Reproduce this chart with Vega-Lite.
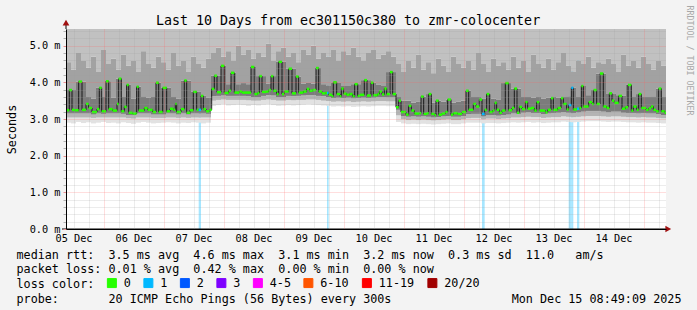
{
"$schema": "https://vega.github.io/schema/vega-lite/v6.json",
"width": 600, "height": 200,
"autosize": {"type": "none"},
"padding": {"left": 66, "top": 29, "right": 31, "bottom": 81},
"background": "#f3f3f3",
"title": {"text": "Last 10 Days from ec301150c380 to zmr-colocenter", "font": "DejaVu Sans Mono", "fontSize": 13.3, "fontWeight": "normal", "color": "#000000", "anchor": "middle", "frame": "group", "dx": -18, "offset": 0, "dy": 33, "baseline": "alphabetic"},
"datasets": {
"med": [
{"h":0,"h2":1.33,"v":3.24,"lc":"0"},{"h":1.33,"h2":2.4,"v":3.79,"lc":"0"},{"h":2.4,"h2":3.33,"v":3.25,"lc":"0"},{"h":3.33,"h2":5.07,"v":3.24,"lc":"0"},
{"h":5.07,"h2":6.4,"v":4.02,"lc":"0"},{"h":6.4,"h2":8.0,"v":3.25,"lc":"0"},{"h":8.0,"h2":9.07,"v":3.41,"lc":"0"},{"h":9.07,"h2":10.4,"v":3.30,"lc":"0"},
{"h":10.4,"h2":12.4,"v":3.19,"lc":"0"},{"h":12.4,"h2":13.33,"v":3.27,"lc":"0"},{"h":13.33,"h2":14.27,"v":3.85,"lc":"0"},{"h":14.27,"h2":16.0,"v":3.21,"lc":"0"},
{"h":16.0,"h2":17.07,"v":4.03,"lc":"0"},{"h":17.07,"h2":18.67,"v":3.27,"lc":"0"},{"h":18.67,"h2":20.4,"v":3.23,"lc":"0"},{"h":20.4,"h2":21.07,"v":3.41,"lc":"0"},
{"h":21.07,"h2":22.13,"v":4.10,"lc":"0"},{"h":22.13,"h2":23.33,"v":3.21,"lc":"0"},{"h":23.33,"h2":24.27,"v":3.33,"lc":"0"},{"h":24.27,"h2":25.07,"v":3.93,"lc":"0"},
{"h":25.07,"h2":26.67,"v":3.17,"lc":"0"},{"h":26.67,"h2":28.27,"v":3.15,"lc":"0"},{"h":28.27,"h2":29.07,"v":3.88,"lc":"0"},{"h":29.07,"h2":31.33,"v":3.23,"lc":"0"},
{"h":31.33,"h2":32.67,"v":3.30,"lc":"0"},{"h":32.67,"h2":34.67,"v":3.25,"lc":"0"},{"h":34.67,"h2":36.0,"v":3.19,"lc":"0"},{"h":36.0,"h2":37.07,"v":3.99,"lc":"0"},
{"h":37.07,"h2":38.67,"v":3.19,"lc":"0"},{"h":38.67,"h2":40.27,"v":3.85,"lc":"0"},{"h":40.27,"h2":41.6,"v":3.21,"lc":"0"},{"h":41.6,"h2":42.93,"v":3.28,"lc":"0"},
{"h":42.93,"h2":43.73,"v":3.25,"lc":"0"},{"h":43.73,"h2":44.27,"v":3.41,"lc":"0"},{"h":44.27,"h2":46.0,"v":3.19,"lc":"0"},{"h":46.0,"h2":47.33,"v":3.27,"lc":"0"},
{"h":47.33,"h2":48.27,"v":4.05,"lc":"0"},{"h":48.27,"h2":49.6,"v":3.17,"lc":"0"},{"h":49.6,"h2":50.93,"v":3.24,"lc":"0"},{"h":50.93,"h2":52.27,"v":3.74,"lc":"0"},
{"h":52.27,"h2":53.07,"v":3.25,"lc":"0"},{"h":53.07,"h2":54.0,"v":3.25,"lc":"1"},{"h":54.0,"h2":54.93,"v":3.63,"lc":"0"},{"h":54.93,"h2":56.0,"v":3.27,"lc":"0"},
{"h":56.0,"h2":57.33,"v":3.21,"lc":"0"},{"h":57.33,"h2":58.27,"v":3.25,"lc":"0"},{"h":58.27,"h2":59.33,"v":3.82,"lc":"0"},{"h":59.33,"h2":60.4,"v":4.18,"lc":"0"},
{"h":60.4,"h2":62.0,"v":3.73,"lc":"0"},{"h":62.0,"h2":63.33,"v":4.45,"lc":"0"},{"h":63.33,"h2":65.07,"v":3.71,"lc":"0"},{"h":65.07,"h2":66.0,"v":3.77,"lc":"0"},
{"h":66.0,"h2":67.33,"v":4.26,"lc":"0"},{"h":67.33,"h2":69.33,"v":3.72,"lc":"0"},{"h":69.33,"h2":70.4,"v":3.75,"lc":"0"},{"h":70.4,"h2":74.0,"v":3.72,"lc":"0"},
{"h":74.0,"h2":75.33,"v":4.42,"lc":"0"},{"h":75.33,"h2":76.67,"v":3.68,"lc":"0"},{"h":76.67,"h2":77.33,"v":3.71,"lc":"0"},{"h":77.33,"h2":78.4,"v":4.17,"lc":"0"},
{"h":78.4,"h2":80.0,"v":3.74,"lc":"0"},{"h":80.0,"h2":81.07,"v":3.75,"lc":"0"},{"h":81.07,"h2":82.0,"v":3.79,"lc":"0"},{"h":82.0,"h2":82.93,"v":4.17,"lc":"0"},
{"h":82.93,"h2":84.27,"v":3.77,"lc":"0"},{"h":84.27,"h2":85.07,"v":3.68,"lc":"0"},{"h":85.07,"h2":86.4,"v":4.56,"lc":"0"},{"h":86.4,"h2":87.33,"v":3.68,"lc":"0"},
{"h":87.33,"h2":89.07,"v":3.75,"lc":"0"},{"h":89.07,"h2":90.4,"v":4.37,"lc":"0"},{"h":90.4,"h2":92.0,"v":3.70,"lc":"0"},{"h":92.0,"h2":93.07,"v":4.16,"lc":"0"},
{"h":93.07,"h2":94.93,"v":3.72,"lc":"0"},{"h":94.93,"h2":96.27,"v":3.75,"lc":"0"},{"h":96.27,"h2":97.33,"v":3.82,"lc":"0"},{"h":97.33,"h2":98.67,"v":3.77,"lc":"0"},
{"h":98.67,"h2":100.0,"v":3.79,"lc":"0"},{"h":100.0,"h2":101.07,"v":4.39,"lc":"0"},{"h":101.07,"h2":102.4,"v":3.75,"lc":"0"},{"h":102.4,"h2":103.73,"v":3.70,"lc":"0"},
{"h":103.73,"h2":104.4,"v":3.71,"lc":"0"},{"h":104.4,"h2":105.07,"v":3.71,"lc":"1"},{"h":105.07,"h2":106.4,"v":3.66,"lc":"0"},{"h":106.4,"h2":106.93,"v":3.62,"lc":"0"},
{"h":106.93,"h2":108.27,"v":4.00,"lc":"0"},{"h":108.27,"h2":109.6,"v":3.68,"lc":"0"},{"h":109.6,"h2":110.13,"v":3.62,"lc":"0"},{"h":110.13,"h2":111.07,"v":3.83,"lc":"0"},
{"h":111.07,"h2":112.27,"v":3.69,"lc":"0"},{"h":112.27,"h2":113.33,"v":3.66,"lc":"0"},{"h":113.33,"h2":114.67,"v":3.68,"lc":"0"},{"h":114.67,"h2":115.47,"v":3.62,"lc":"0"},
{"h":115.47,"h2":116.67,"v":3.95,"lc":"0"},{"h":116.67,"h2":117.6,"v":3.63,"lc":"0"},{"h":117.6,"h2":119.33,"v":3.66,"lc":"0"},{"h":119.33,"h2":120.4,"v":4.06,"lc":"0"},
{"h":120.4,"h2":122.0,"v":3.64,"lc":"0"},{"h":122.0,"h2":122.93,"v":3.99,"lc":"0"},{"h":122.93,"h2":124.67,"v":3.65,"lc":"0"},{"h":124.67,"h2":125.33,"v":3.68,"lc":"0"},
{"h":125.33,"h2":126.4,"v":3.75,"lc":"0"},{"h":126.4,"h2":127.33,"v":3.67,"lc":"0"},{"h":127.33,"h2":128.27,"v":3.83,"lc":"0"},{"h":128.27,"h2":129.6,"v":3.68,"lc":"0"},
{"h":129.6,"h2":130.67,"v":4.28,"lc":"0"},{"h":130.67,"h2":132.0,"v":3.68,"lc":"0"},{"h":132.0,"h2":133.07,"v":3.32,"lc":"0"},{"h":133.07,"h2":134.0,"v":3.50,"lc":"0"},
{"h":134.0,"h2":136.0,"v":3.19,"lc":"0"},{"h":136.0,"h2":137.07,"v":3.12,"lc":"0"},{"h":137.07,"h2":138.13,"v":3.36,"lc":"0"},{"h":138.13,"h2":139.33,"v":3.23,"lc":"0"},
{"h":139.33,"h2":141.33,"v":3.15,"lc":"0"},{"h":141.33,"h2":142.0,"v":3.16,"lc":"0"},{"h":142.0,"h2":143.07,"v":3.61,"lc":"0"},{"h":143.07,"h2":144.4,"v":3.14,"lc":"0"},
{"h":144.4,"h2":145.07,"v":3.16,"lc":"0"},{"h":145.07,"h2":146.13,"v":3.68,"lc":"0"},{"h":146.13,"h2":147.47,"v":3.14,"lc":"0"},{"h":147.47,"h2":148.0,"v":3.10,"lc":"0"},
{"h":148.0,"h2":149.07,"v":3.50,"lc":"0"},{"h":149.07,"h2":150.4,"v":3.12,"lc":"0"},{"h":150.4,"h2":151.73,"v":3.15,"lc":"0"},{"h":151.73,"h2":152.67,"v":3.19,"lc":"0"},
{"h":152.67,"h2":154.0,"v":3.53,"lc":"0"},{"h":154.0,"h2":154.93,"v":3.12,"lc":"0"},{"h":154.93,"h2":156.67,"v":3.16,"lc":"0"},{"h":156.67,"h2":158.4,"v":3.14,"lc":"0"},
{"h":158.4,"h2":160.0,"v":3.19,"lc":"0"},{"h":160.0,"h2":161.07,"v":3.77,"lc":"0"},{"h":161.07,"h2":162.93,"v":3.25,"lc":"0"},{"h":162.93,"h2":164.0,"v":3.41,"lc":"0"},
{"h":164.0,"h2":165.33,"v":3.34,"lc":"0"},{"h":165.33,"h2":166.4,"v":3.53,"lc":"0"},{"h":166.4,"h2":167.47,"v":3.14,"lc":"1"},{"h":167.47,"h2":168.27,"v":3.25,"lc":"0"},
{"h":168.27,"h2":169.33,"v":3.68,"lc":"0"},{"h":169.33,"h2":170.67,"v":3.19,"lc":"0"},{"h":170.67,"h2":171.47,"v":3.23,"lc":"0"},{"h":171.47,"h2":172.27,"v":3.44,"lc":"0"},
{"h":172.27,"h2":173.33,"v":3.25,"lc":"0"},{"h":173.33,"h2":174.4,"v":3.17,"lc":"0"},{"h":174.4,"h2":175.73,"v":3.23,"lc":"0"},{"h":175.73,"h2":177.07,"v":3.98,"lc":"0"},
{"h":177.07,"h2":178.4,"v":3.24,"lc":"0"},{"h":178.4,"h2":179.33,"v":3.30,"lc":"0"},{"h":179.33,"h2":180.4,"v":3.83,"lc":"0"},{"h":180.4,"h2":181.33,"v":3.17,"lc":"0"},
{"h":181.33,"h2":182.4,"v":3.33,"lc":"0"},{"h":182.4,"h2":183.73,"v":3.27,"lc":"0"},{"h":183.73,"h2":184.67,"v":3.46,"lc":"0"},{"h":184.67,"h2":186.0,"v":3.28,"lc":"0"},
{"h":186.0,"h2":187.33,"v":3.30,"lc":"0"},{"h":187.33,"h2":188.27,"v":3.23,"lc":"0"},{"h":188.27,"h2":189.33,"v":3.46,"lc":"0"},{"h":189.33,"h2":191.73,"v":3.23,"lc":"0"},
{"h":191.73,"h2":192.67,"v":3.18,"lc":"0"},{"h":192.67,"h2":194.0,"v":3.25,"lc":"0"},{"h":194.0,"h2":194.93,"v":3.57,"lc":"0"},{"h":194.93,"h2":196.67,"v":3.25,"lc":"0"},
{"h":196.67,"h2":198.0,"v":3.30,"lc":"0"},{"h":198.0,"h2":198.93,"v":3.57,"lc":"0"},{"h":198.93,"h2":200.27,"v":3.41,"lc":"0"},{"h":200.27,"h2":201.07,"v":3.26,"lc":"0"},
{"h":201.07,"h2":202.13,"v":3.38,"lc":"1"},{"h":202.13,"h2":202.93,"v":3.85,"lc":"1"},{"h":202.93,"h2":204.4,"v":3.26,"lc":"0"},{"h":204.4,"h2":205.33,"v":3.28,"lc":"1"},
{"h":205.33,"h2":206.13,"v":3.30,"lc":"0"},{"h":206.13,"h2":206.93,"v":3.90,"lc":"0"},{"h":206.93,"h2":209.07,"v":3.34,"lc":"0"},{"h":209.07,"h2":210.4,"v":3.46,"lc":"0"},
{"h":210.4,"h2":211.07,"v":3.41,"lc":"0"},{"h":211.07,"h2":212.27,"v":3.79,"lc":"0"},{"h":212.27,"h2":213.6,"v":3.41,"lc":"0"},{"h":213.6,"h2":214.93,"v":4.24,"lc":"0"},
{"h":214.93,"h2":216.27,"v":3.34,"lc":"0"},{"h":216.27,"h2":217.33,"v":3.30,"lc":"0"},{"h":217.33,"h2":218.4,"v":3.70,"lc":"0"},{"h":218.4,"h2":219.33,"v":3.50,"lc":"0"},
{"h":219.33,"h2":221.07,"v":3.44,"lc":"0"},{"h":221.07,"h2":222.4,"v":3.63,"lc":"0"},{"h":222.4,"h2":223.73,"v":3.28,"lc":"0"},{"h":223.73,"h2":224.8,"v":3.32,"lc":"0"},
{"h":224.8,"h2":226.13,"v":3.93,"lc":"0"},{"h":226.13,"h2":226.93,"v":3.23,"lc":"0"},{"h":226.93,"h2":228.27,"v":3.34,"lc":"0"},{"h":228.27,"h2":229.07,"v":3.25,"lc":"0"},
{"h":229.07,"h2":230.13,"v":3.68,"lc":"0"},{"h":230.13,"h2":232.0,"v":3.30,"lc":"0"},{"h":232.0,"h2":233.07,"v":3.25,"lc":"0"},{"h":233.07,"h2":234.0,"v":3.29,"lc":"0"},
{"h":234.0,"h2":234.93,"v":3.34,"lc":"0"},{"h":234.93,"h2":236.0,"v":3.25,"lc":"0"},{"h":236.0,"h2":237.07,"v":3.21,"lc":"0"},{"h":237.07,"h2":238.13,"v":3.83,"lc":"0"},
{"h":238.13,"h2":239.47,"v":3.21,"lc":"0"},{"h":239.47,"h2":240.0,"v":3.17,"lc":"0"}
],
"smoke": [
{"h":0,"h2":2,"lo":2.9,"m1":3.04,"m2":3.15,"m3":3.79,"m4":4.55},
{"h":2,"h2":4,"lo":2.88,"m1":3.04,"m2":3.15,"m3":3.79,"m4":4.35},
{"h":4,"h2":6,"lo":2.92,"m1":3.04,"m2":3.15,"m3":4.02,"m4":4.8},
{"h":6,"h2":8,"lo":2.89,"m1":3.04,"m2":3.15,"m3":4.02,"m4":4.6},
{"h":8,"h2":10,"lo":2.91,"m1":3.04,"m2":3.15,"m3":3.6,"m4":4.4},
{"h":10,"h2":12,"lo":2.88,"m1":3.03,"m2":3.12,"m3":3.55,"m4":4.7},
{"h":12,"h2":14,"lo":2.9,"m1":3.04,"m2":3.15,"m3":3.85,"m4":4.3},
{"h":14,"h2":16,"lo":2.92,"m1":3.04,"m2":3.14,"m3":3.6,"m4":4.9},
{"h":16,"h2":18,"lo":2.89,"m1":3.04,"m2":3.15,"m3":4.03,"m4":4.5},
{"h":18,"h2":20,"lo":2.9,"m1":3.04,"m2":3.15,"m3":3.58,"m4":4.65},
{"h":20,"h2":22,"lo":2.88,"m1":3.04,"m2":3.15,"m3":4.1,"m4":4.35},
{"h":22,"h2":24,"lo":2.91,"m1":3.04,"m2":3.14,"m3":3.6,"m4":4.75},
{"h":24,"h2":26,"lo":2.89,"m1":3.02,"m2":3.11,"m3":3.93,"m4":4.45},
{"h":26,"h2":28,"lo":2.87,"m1":3.01,"m2":3.1,"m3":3.55,"m4":4.6},
{"h":28,"h2":30,"lo":2.9,"m1":3.04,"m2":3.15,"m3":3.88,"m4":4.3},
{"h":30,"h2":32,"lo":2.92,"m1":3.04,"m2":3.15,"m3":3.62,"m4":4.85},
{"h":32,"h2":34,"lo":2.9,"m1":3.04,"m2":3.15,"m3":3.58,"m4":4.5},
{"h":34,"h2":36,"lo":2.88,"m1":3.03,"m2":3.12,"m3":3.6,"m4":4.4},
{"h":36,"h2":38,"lo":2.89,"m1":3.03,"m2":3.12,"m3":3.99,"m4":4.7},
{"h":38,"h2":40,"lo":2.9,"m1":3.03,"m2":3.12,"m3":3.85,"m4":4.55},
{"h":40,"h2":42,"lo":2.91,"m1":3.04,"m2":3.15,"m3":3.85,"m4":4.35},
{"h":42,"h2":44,"lo":2.9,"m1":3.04,"m2":3.15,"m3":3.6,"m4":4.8},
{"h":44,"h2":46,"lo":2.88,"m1":3.03,"m2":3.12,"m3":3.55,"m4":4.45},
{"h":46,"h2":48,"lo":2.9,"m1":3.04,"m2":3.15,"m3":4.05,"m4":4.6},
{"h":48,"h2":50,"lo":2.89,"m1":3.03,"m2":3.12,"m3":4.05,"m4":4.3},
{"h":50,"h2":52,"lo":2.91,"m1":3.04,"m2":3.15,"m3":3.74,"m4":4.7},
{"h":52,"h2":54,"lo":2.9,"m1":3.04,"m2":3.15,"m3":3.74,"m4":4.5},
{"h":54,"h2":56,"lo":2.88,"m1":3.04,"m2":3.15,"m3":3.63,"m4":4.4},
{"h":56,"h2":58,"lo":2.9,"m1":3.04,"m2":3.14,"m3":3.58,"m4":4.65},
{"h":58,"h2":60,"lo":3.36,"m1":3.5,"m2":3.62,"m3":4.18,"m4":4.8},
{"h":60,"h2":62,"lo":3.38,"m1":3.52,"m2":3.63,"m3":4.18,"m4":4.95},
{"h":62,"h2":64,"lo":3.4,"m1":3.53,"m2":3.64,"m3":4.45,"m4":4.7},
{"h":64,"h2":66,"lo":3.37,"m1":3.52,"m2":3.63,"m3":3.95,"m4":4.85},
{"h":66,"h2":68,"lo":3.38,"m1":3.52,"m2":3.63,"m3":4.26,"m4":4.6},
{"h":68,"h2":70,"lo":3.39,"m1":3.52,"m2":3.63,"m3":3.95,"m4":5.0},
{"h":70,"h2":72,"lo":3.38,"m1":3.52,"m2":3.63,"m3":3.98,"m4":4.75},
{"h":72,"h2":74,"lo":3.36,"m1":3.51,"m2":3.62,"m3":3.95,"m4":4.9},
{"h":74,"h2":76,"lo":3.38,"m1":3.5,"m2":3.6,"m3":4.42,"m4":4.65},
{"h":76,"h2":78,"lo":3.37,"m1":3.5,"m2":3.6,"m3":4.17,"m4":4.8},
{"h":78,"h2":80,"lo":3.39,"m1":3.52,"m2":3.63,"m3":4.17,"m4":4.7},
{"h":80,"h2":82,"lo":3.4,"m1":3.53,"m2":3.65,"m3":3.97,"m4":5.05},
{"h":82,"h2":84,"lo":3.38,"m1":3.52,"m2":3.64,"m3":4.17,"m4":4.6},
{"h":84,"h2":86,"lo":3.36,"m1":3.5,"m2":3.6,"m3":4.56,"m4":4.85},
{"h":86,"h2":88,"lo":3.37,"m1":3.5,"m2":3.6,"m3":4.56,"m4":4.95},
{"h":88,"h2":90,"lo":3.38,"m1":3.52,"m2":3.63,"m3":4.37,"m4":4.7},
{"h":90,"h2":92,"lo":3.37,"m1":3.51,"m2":3.62,"m3":4.37,"m4":4.8},
{"h":92,"h2":94,"lo":3.38,"m1":3.52,"m2":3.63,"m3":4.16,"m4":4.55},
{"h":94,"h2":96,"lo":3.39,"m1":3.52,"m2":3.64,"m3":3.97,"m4":4.9},
{"h":96,"h2":98,"lo":3.4,"m1":3.53,"m2":3.65,"m3":4.0,"m4":4.75},
{"h":98,"h2":100,"lo":3.39,"m1":3.53,"m2":3.65,"m3":3.96,"m4":5.0},
{"h":100,"h2":102,"lo":3.38,"m1":3.52,"m2":3.63,"m3":4.39,"m4":4.65},
{"h":102,"h2":104,"lo":3.37,"m1":3.5,"m2":3.62,"m3":3.95,"m4":4.8},
{"h":104,"h2":106,"lo":3.36,"m1":3.49,"m2":3.6,"m3":3.92,"m4":4.7},
{"h":106,"h2":108,"lo":3.34,"m1":3.47,"m2":3.57,"m3":4.0,"m4":4.9},
{"h":108,"h2":110,"lo":3.35,"m1":3.48,"m2":3.58,"m3":4.0,"m4":4.6},
{"h":110,"h2":112,"lo":3.34,"m1":3.47,"m2":3.57,"m3":3.9,"m4":4.85},
{"h":112,"h2":114,"lo":3.35,"m1":3.48,"m2":3.58,"m3":3.9,"m4":4.75},
{"h":114,"h2":116,"lo":3.33,"m1":3.46,"m2":3.56,"m3":3.95,"m4":4.95},
{"h":116,"h2":118,"lo":3.34,"m1":3.47,"m2":3.57,"m3":3.95,"m4":4.7},
{"h":118,"h2":120,"lo":3.35,"m1":3.48,"m2":3.58,"m3":4.06,"m4":4.6},
{"h":120,"h2":122,"lo":3.34,"m1":3.47,"m2":3.57,"m3":4.06,"m4":4.8},
{"h":122,"h2":124,"lo":3.35,"m1":3.48,"m2":3.58,"m3":3.99,"m4":4.9},
{"h":124,"h2":126,"lo":3.36,"m1":3.49,"m2":3.6,"m3":3.93,"m4":4.65},
{"h":126,"h2":128,"lo":3.36,"m1":3.49,"m2":3.6,"m3":3.9,"m4":4.75},
{"h":128,"h2":130,"lo":3.35,"m1":3.48,"m2":3.59,"m3":4.28,"m4":4.85},
{"h":130,"h2":132,"lo":3.35,"m1":3.48,"m2":3.59,"m3":4.28,"m4":4.7},
{"h":132,"h2":134,"lo":2.92,"m1":3.1,"m2":3.25,"m3":3.6,"m4":4.5},
{"h":134,"h2":136,"lo":2.88,"m1":2.99,"m2":3.08,"m3":3.5,"m4":4.3},
{"h":136,"h2":138,"lo":2.86,"m1":2.97,"m2":3.06,"m3":3.5,"m4":4.6},
{"h":138,"h2":140,"lo":2.87,"m1":2.98,"m2":3.07,"m3":3.45,"m4":4.4},
{"h":140,"h2":142,"lo":2.86,"m1":2.97,"m2":3.06,"m3":3.48,"m4":4.75},
{"h":142,"h2":144,"lo":2.87,"m1":2.98,"m2":3.07,"m3":3.61,"m4":4.35},
{"h":144,"h2":146,"lo":2.86,"m1":2.97,"m2":3.06,"m3":3.68,"m4":4.55},
{"h":146,"h2":148,"lo":2.85,"m1":2.96,"m2":3.04,"m3":3.45,"m4":4.25},
{"h":148,"h2":150,"lo":2.86,"m1":2.97,"m2":3.05,"m3":3.5,"m4":4.65},
{"h":150,"h2":152,"lo":2.87,"m1":2.98,"m2":3.07,"m3":3.47,"m4":4.45},
{"h":152,"h2":154,"lo":2.88,"m1":2.99,"m2":3.08,"m3":3.53,"m4":4.3},
{"h":154,"h2":156,"lo":2.86,"m1":2.97,"m2":3.06,"m3":3.45,"m4":4.7},
{"h":156,"h2":158,"lo":2.86,"m1":2.97,"m2":3.06,"m3":3.48,"m4":4.5},
{"h":158,"h2":160,"lo":2.88,"m1":2.99,"m2":3.08,"m3":3.5,"m4":4.4},
{"h":160,"h2":162,"lo":2.9,"m1":3.02,"m2":3.13,"m3":3.77,"m4":4.6},
{"h":162,"h2":164,"lo":2.9,"m1":3.03,"m2":3.14,"m3":3.6,"m4":4.35},
{"h":164,"h2":166,"lo":2.9,"m1":3.03,"m2":3.14,"m3":3.6,"m4":4.8},
{"h":166,"h2":168,"lo":2.88,"m1":2.99,"m2":3.07,"m3":3.55,"m4":4.5},
{"h":168,"h2":170,"lo":2.89,"m1":3.01,"m2":3.1,"m3":3.68,"m4":4.3},
{"h":170,"h2":172,"lo":2.89,"m1":3.01,"m2":3.11,"m3":3.55,"m4":4.65},
{"h":172,"h2":174,"lo":2.88,"m1":3.0,"m2":3.09,"m3":3.52,"m4":4.45},
{"h":174,"h2":176,"lo":2.89,"m1":3.01,"m2":3.11,"m3":3.98,"m4":4.55},
{"h":176,"h2":178,"lo":2.9,"m1":3.02,"m2":3.12,"m3":3.98,"m4":4.35},
{"h":178,"h2":180,"lo":2.91,"m1":3.04,"m2":3.15,"m3":3.83,"m4":4.7},
{"h":180,"h2":182,"lo":2.9,"m1":3.04,"m2":3.14,"m3":3.83,"m4":4.4},
{"h":182,"h2":184,"lo":2.91,"m1":3.05,"m2":3.17,"m3":3.6,"m4":4.6},
{"h":184,"h2":186,"lo":2.92,"m1":3.06,"m2":3.18,"m3":3.6,"m4":4.3},
{"h":186,"h2":188,"lo":2.9,"m1":3.05,"m2":3.16,"m3":3.58,"m4":4.75},
{"h":188,"h2":190,"lo":2.91,"m1":3.05,"m2":3.16,"m3":3.6,"m4":4.5},
{"h":190,"h2":192,"lo":2.89,"m1":3.03,"m2":3.13,"m3":3.55,"m4":4.4},
{"h":192,"h2":194,"lo":2.9,"m1":3.04,"m2":3.15,"m3":3.58,"m4":4.65},
{"h":194,"h2":196,"lo":2.91,"m1":3.05,"m2":3.16,"m3":3.6,"m4":4.35},
{"h":196,"h2":198,"lo":2.91,"m1":3.05,"m2":3.17,"m3":3.58,"m4":4.55},
{"h":198,"h2":200,"lo":2.93,"m1":3.07,"m2":3.19,"m3":3.6,"m4":4.8},
{"h":200,"h2":202,"lo":2.92,"m1":3.06,"m2":3.17,"m3":3.62,"m4":4.45},
{"h":202,"h2":204,"lo":2.91,"m1":3.05,"m2":3.16,"m3":3.85,"m4":4.3},
{"h":204,"h2":206,"lo":2.92,"m1":3.06,"m2":3.18,"m3":3.6,"m4":4.6},
{"h":206,"h2":208,"lo":2.93,"m1":3.07,"m2":3.2,"m3":3.9,"m4":4.5},
{"h":208,"h2":210,"lo":2.94,"m1":3.08,"m2":3.22,"m3":3.65,"m4":4.7},
{"h":210,"h2":212,"lo":2.94,"m1":3.08,"m2":3.22,"m3":3.79,"m4":4.4},
{"h":212,"h2":214,"lo":2.94,"m1":3.08,"m2":3.22,"m3":4.24,"m4":4.55},
{"h":214,"h2":216,"lo":2.93,"m1":3.07,"m2":3.2,"m3":4.24,"m4":4.5},
{"h":216,"h2":218,"lo":2.92,"m1":3.06,"m2":3.18,"m3":3.7,"m4":4.65},
{"h":218,"h2":220,"lo":2.93,"m1":3.07,"m2":3.2,"m3":3.7,"m4":4.5},
{"h":220,"h2":222,"lo":2.93,"m1":3.07,"m2":3.2,"m3":3.65,"m4":4.3},
{"h":222,"h2":224,"lo":2.92,"m1":3.06,"m2":3.17,"m3":3.63,"m4":4.75},
{"h":224,"h2":226,"lo":2.91,"m1":3.05,"m2":3.16,"m3":3.93,"m4":4.45},
{"h":226,"h2":228,"lo":2.91,"m1":3.05,"m2":3.16,"m3":3.62,"m4":4.6},
{"h":228,"h2":230,"lo":2.9,"m1":3.04,"m2":3.15,"m3":3.68,"m4":4.4},
{"h":230,"h2":232,"lo":2.91,"m1":3.05,"m2":3.16,"m3":3.6,"m4":4.7},
{"h":232,"h2":234,"lo":2.9,"m1":3.04,"m2":3.15,"m3":3.6,"m4":4.5},
{"h":234,"h2":236,"lo":2.9,"m1":3.04,"m2":3.15,"m3":3.62,"m4":4.35},
{"h":236,"h2":238,"lo":2.89,"m1":3.03,"m2":3.13,"m3":3.83,"m4":4.6},
{"h":238,"h2":240,"lo":2.88,"m1":3.02,"m2":3.11,"m3":3.6,"m4":4.45}
]
},
"layer": [
{
"data": {"name": "med"},
"transform": [{"filter": "datum.lc != '0'"}],
"mark": {"type": "rect", "fillOpacity": 0.35, "clip": true},
"encoding": {
"x": {"field": "h", "type": "quantitative", "scale": {"domain": [0, 240], "nice": false, "zero": false},
"axis": {"orient": "bottom", "values": [3,9,21,27,33,45,51,57,69,75,81,93,99,105,117,123,129,141,147,153,165,171,177,189,195,201,213,219,225,237], "grid": true, "gridColor": "#a0a0a0", "gridOpacity": 0.4, "gridDash": [1,1], "labels": false, "ticks": false, "domain": false, "title": null, "zindex": 1}},
"x2": {"field": "h2"},
"y": {"datum": 0, "type": "quantitative", "scale": {"domain": [0, 5.455], "nice": false, "zero": false},
"axis": {"orient": "left", "values": [0.2,0.4,0.6,0.8,1.2,1.4,1.6,1.8,2.2,2.4,2.6,2.8,3.2,3.4,3.6,3.8,4.2,4.4,4.6,4.8,5.2,5.4], "grid": true, "gridColor": "#a0a0a0", "gridOpacity": 0.4, "gridDash": [1,1], "labels": false, "ticks": true, "tickSize": 3, "tickColor": "#b0b0b0", "domain": false, "title": null, "zindex": 1}},
"y2": {"datum": 5.455},
"fill": {"field": "lc", "type": "nominal",
"scale": {"domain": ["0","1","2","3","4-5","6-10","11-19","20/20"], "range": ["#26ff00","#00b8ff","#0059ff","#7e00ff","#ff00ff","#ff5500","#ff0000","#a10000"]},
"legend": {"orient": "none", "legendX": 40, "legendY": 248, "direction": "horizontal", "title": null,
"symbolType": "square", "symbolSize": 81, "symbolStrokeColor": "#000000", "symbolStrokeWidth": 1, "symbolOpacity": 1,
"labelFont": "DejaVu Sans Mono", "labelFontSize": 11.75, "labelColor": "#000000", "labelOffset": 6, "columnPadding": 10.5, "padding": 0, "labelLimit": 200,
"encode": {"symbols": {"update": {"opacity": {"value": 1}, "fillOpacity": {"value": 1}}}}}}
}
},
{
"data": {"name": "smoke"},
"mark": {"type": "rect", "color": "#e2e2e2", "clip": true},
"encoding": {
"x": {"field": "h", "type": "quantitative", "scale": {"domain": [0, 240], "nice": false, "zero": false},
"axis": {"orient": "bottom", "values": [15,39,63,87,111,135,159,183,207,231], "grid": true, "gridColor": "#ff5f5f", "gridOpacity": 0.42, "gridDash": [1,1], "labels": false, "ticks": false, "domain": false, "zindex": 1,
"title": "probe:\u00a0\u00a0\u00a0\u00a0\u00a0\u00a0\u00a020\u00a0ICMP\u00a0Echo\u00a0Pings\u00a0(56\u00a0Bytes)\u00a0every\u00a0300s\u00a0\u00a0\u00a0\u00a0\u00a0\u00a0\u00a0\u00a0\u00a0\u00a0\u00a0\u00a0\u00a0\u00a0\u00a0\u00a0\u00a0Mon\u00a0Dec\u00a015\u00a008:49:09\u00a02025",
"titleFont": "DejaVu Sans Mono", "titleFontSize": 11.75, "titleFontWeight": "normal", "titleColor": "#000000", "titleX": -50, "titleY": 73.1, "titleAlign": "left", "titleAnchor": "start", "titleBaseline": "alphabetic"}},
"x2": {"field": "h2"},
"y": {"field": "lo", "type": "quantitative", "scale": {"domain": [0, 5.455], "nice": false, "zero": false},
"axis": {"orient": "left", "values": [0,1,2,3,4,5], "grid": true, "gridColor": "#ff5f5f", "gridOpacity": 0.42, "gridDash": [1,1], "labels": true, "labelExpr": "format(datum.value, '.1f') + ' m'", "labelFont": "DejaVu Sans Mono", "labelFontSize": 10.25, "labelColor": "#000000", "labelPadding": 3, "labelFlush": false, "labelOverlap": false, "ticks": true, "tickSize": 3, "tickColor": "#e89090", "domain": true, "domainColor": "#000000", "domainWidth": 1,
"title": "Seconds", "titleFont": "DejaVu Sans Mono", "titleFontSize": 11.75, "titleFontWeight": "normal", "titleColor": "#000000", "titleAngle": -90, "titleX": -55, "titleY": 100, "titleAlign": "center", "titleBaseline": "middle", "zindex": 1}},
"y2": {"field": "m1"}
}
},
{
"data": {"name": "smoke"},
"mark": {"type": "rect", "color": "#b4b4b4", "clip": true},
"encoding": {
"x": {"field": "h", "type": "quantitative", "scale": {"domain": [0, 240], "nice": false, "zero": false},
"axis": {"orient": "bottom", "values": [3,27,51,75,99,123,147,171,195,219], "grid": false, "ticks": false, "domain": true, "domainColor": "#000000", "domainWidth": 1,
"labelExpr": "(floor((datum.value+9)/24)+5 < 10 ? '0' : '') + (floor((datum.value+9)/24)+5) + ' Dec'", "labelFont": "DejaVu Sans Mono", "labelFontSize": 10.25, "labelColor": "#000000", "labelPadding": 4, "labelFlush": false, "labelOverlap": false, "labelBound": false,
"title": ["median\u00a0rtt:\u00a0\u00a03.5\u00a0ms\u00a0avg\u00a0\u00a04.6\u00a0ms\u00a0max\u00a0\u00a03.1\u00a0ms\u00a0min\u00a0\u00a03.2\u00a0ms\u00a0now\u00a0\u00a00.3\u00a0ms\u00a0sd\u00a0\u00a011.0\u00a0\u00a0\u00a0am/s", "packet\u00a0loss:\u00a00.01\u00a0%\u00a0avg\u00a0\u00a00.42\u00a0%\u00a0max\u00a0\u00a00.00\u00a0%\u00a0min\u00a0\u00a00.00\u00a0%\u00a0now", "loss\u00a0color:"],
"titleFont": "DejaVu Sans Mono", "titleFontSize": 11.75, "titleFontWeight": "normal", "titleColor": "#000000", "titleX": -50, "titleY": 29, "titleAlign": "left", "titleAnchor": "start", "titleBaseline": "alphabetic", "titleLineHeight": 14.7, "zindex": 1}},
"x2": {"field": "h2"},
"y": {"field": "m1", "type": "quantitative", "scale": {"domain": [0, 5.455], "nice": false, "zero": false},
"axis": {"orient": "right", "grid": false, "labels": false, "ticks": false, "domain": false,
"title": "RRDTOOL / TOBI OETIKER", "titleFont": "DejaVu Sans Mono", "titleFontSize": 8.3, "titleFontWeight": "normal", "titleColor": "#a8a8a8", "titleAngle": 90, "titleX": 22, "titleY": 31, "titleAlign": "center", "titleBaseline": "middle"}},
"y2": {"field": "m2"}
}
},
{
"data": {"name": "smoke"},
"mark": {"type": "rect", "color": "#7c7c7c", "clip": true},
"encoding": {
"x": {"field": "h", "type": "quantitative", "scale": {"domain": [0, 240], "nice": false, "zero": false}, "axis": null},
"x2": {"field": "h2"},
"y": {"field": "m2", "type": "quantitative", "scale": {"domain": [0, 5.455], "nice": false, "zero": false}, "axis": null},
"y2": {"field": "m3"}
}
},
{
"data": {"name": "smoke"},
"mark": {"type": "rect", "color": "#a2a2a2", "clip": true},
"encoding": {
"x": {"field": "h", "type": "quantitative", "axis": null},
"x2": {"field": "h2"},
"y": {"field": "m3", "type": "quantitative", "axis": null},
"y2": {"field": "m4"}
}
},
{
"data": {"name": "smoke"},
"mark": {"type": "rect", "color": "#c1c1c1", "clip": true},
"encoding": {
"x": {"field": "h", "type": "quantitative", "axis": null},
"x2": {"field": "h2"},
"y": {"field": "m4", "type": "quantitative", "axis": null},
"y2": {"datum": 5.455}
}
},
{
"data": {"name": "med"},
"mark": {"type": "line", "interpolate": "step-after", "color": "#1a1a1a", "strokeWidth": 1, "clip": true},
"encoding": {
"x": {"field": "h", "type": "quantitative", "axis": null},
"y": {"field": "v", "type": "quantitative", "axis": null}
}
},
{
"data": {"name": "med"},
"mark": {"type": "rule", "strokeWidth": 2.5, "strokeCap": "butt", "clip": true},
"encoding": {
"x": {"field": "h", "type": "quantitative", "axis": null},
"x2": {"field": "h2"},
"y": {"field": "v", "type": "quantitative", "axis": null},
"stroke": {"field": "lc", "type": "nominal", "scale": {"domain": ["0","1","2","3","4-5","6-10","11-19","20/20"], "range": ["#26ff00","#00b8ff","#0059ff","#7e00ff","#ff00ff","#ff5500","#ff0000","#a10000"]}, "legend": null}
}
},
{
"data": {"values": [{}]},
"mark": {"type": "rule", "color": "#000000", "strokeWidth": 1, "clip": false},
"encoding": {
"x": {"datum": 0, "type": "quantitative", "axis": null},
"y": {"datum": 5.455, "type": "quantitative", "axis": null},
"y2": {"datum": 5.58}
}
},
{
"data": {"values": [{}]},
"mark": {"type": "rule", "color": "#000000", "strokeWidth": 1, "clip": false},
"encoding": {
"x": {"datum": -1.6, "type": "quantitative", "axis": null},
"x2": {"datum": 240.4},
"y": {"datum": 0, "type": "quantitative", "axis": null}
}
},
{
"data": {"values": [{}]},
"mark": {"type": "point", "shape": "triangle-up", "filled": true, "color": "#a01010", "size": 45, "opacity": 1, "clip": false},
"encoding": {
"x": {"datum": 0, "type": "quantitative", "axis": null},
"y": {"datum": 5.63, "type": "quantitative", "axis": null}
}
},
{
"data": {"values": [{}]},
"mark": {"type": "point", "shape": "triangle-right", "filled": true, "color": "#a01010", "size": 45, "opacity": 1, "clip": false},
"encoding": {
"x": {"datum": 240.9, "type": "quantitative", "axis": null},
"y": {"datum": 0, "type": "quantitative", "axis": null}
}
}
],
"resolve": {"axis": {"x": "independent", "y": "independent"}},
"config": {
"font": "DejaVu Sans Mono",
"view": {"stroke": null, "fill": "#ffffff"},
"axis": {"labelFont": "DejaVu Sans Mono", "titleFont": "DejaVu Sans Mono"}
}
}
